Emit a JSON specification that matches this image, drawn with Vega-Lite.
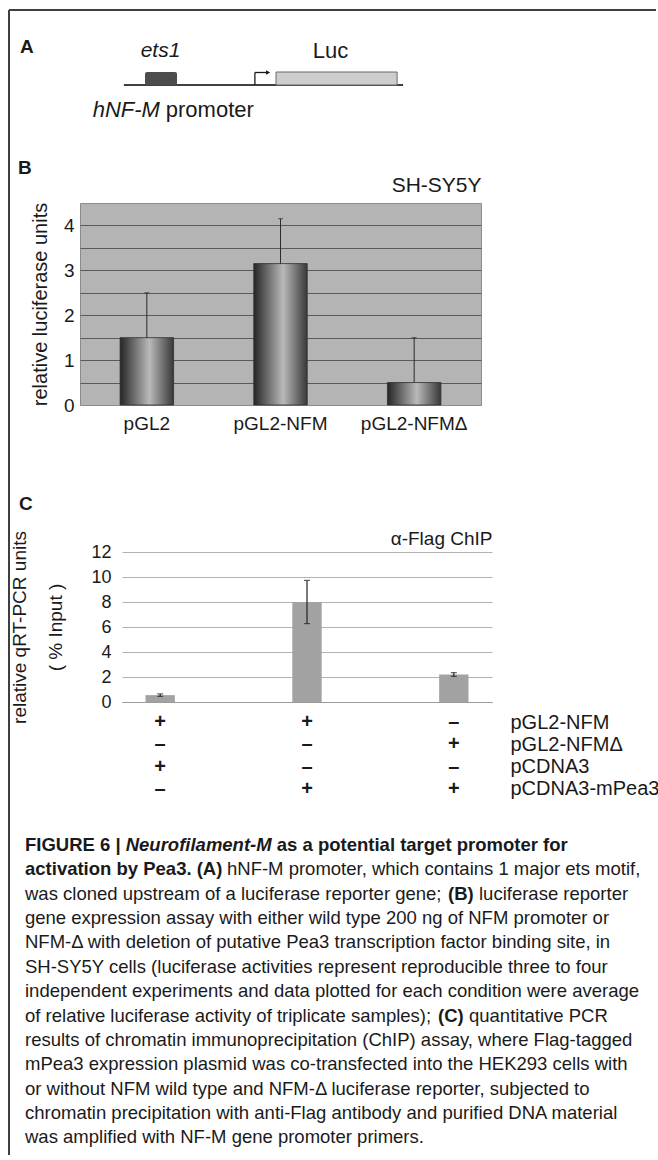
{
  "$schema": "https://vega.github.io/schema/vega-lite/v6.json",
  "background": "white",
  "padding": {"left": 8, "top": 9, "right": 0, "bottom": 0},
  "bounds": "flush",
  "spacing": 0,
  "config": {
    "font": "Liberation Sans",
    "view": {"stroke": null},
    "axis": {"labelColor": "#1a1a1a", "titleColor": "#1a1a1a", "titleFontWeight": "normal", "labelFont": "Liberation Sans", "titleFont": "Liberation Sans"},
    "title": {"color": "#1a1a1a", "font": "Liberation Sans"},
    "text": {"color": "#1a1a1a"}
  },
  "datasets": {
    "construct": [
      {"part": "hNF-M promoter", "start": 13.3, "end": 97.9},
      {"part": "ets1", "start": 19.7, "end": 29.4},
      {"part": "TSS", "start": 53.0, "end": 57.0},
      {"part": "Luc", "start": 59.4, "end": 96.1}
    ],
    "luciferase": [
      {"construct": "pGL2", "value": 1.5, "upper": 2.5},
      {"construct": "pGL2-NFM", "value": 3.15, "upper": 4.15},
      {"construct": "pGL2-NFMΔ", "value": 0.5, "upper": 1.5}
    ],
    "chip": [
      {"sample": "NFM + pCDNA3", "value": 0.55, "low": 0.45, "high": 0.65},
      {"sample": "NFM + mPea3", "value": 8.0, "low": 6.27, "high": 9.73},
      {"sample": "NFMΔ + mPea3", "value": 2.2, "low": 2.05, "high": 2.35}
    ],
    "design": [
      {"sample": "NFM + pCDNA3", "plasmid": "pGL2-NFM", "sign": "+"},
      {"sample": "NFM + mPea3", "plasmid": "pGL2-NFM", "sign": "+"},
      {"sample": "NFMΔ + mPea3", "plasmid": "pGL2-NFM", "sign": "–"},
      {"sample": "NFM + pCDNA3", "plasmid": "pGL2-NFMΔ", "sign": "–"},
      {"sample": "NFM + mPea3", "plasmid": "pGL2-NFMΔ", "sign": "–"},
      {"sample": "NFMΔ + mPea3", "plasmid": "pGL2-NFMΔ", "sign": "+"},
      {"sample": "NFM + pCDNA3", "plasmid": "pCDNA3", "sign": "+"},
      {"sample": "NFM + mPea3", "plasmid": "pCDNA3", "sign": "–"},
      {"sample": "NFMΔ + mPea3", "plasmid": "pCDNA3", "sign": "–"},
      {"sample": "NFM + pCDNA3", "plasmid": "pCDNA3-mPea3", "sign": "–"},
      {"sample": "NFM + mPea3", "plasmid": "pCDNA3-mPea3", "sign": "+"},
      {"sample": "NFMΔ + mPea3", "plasmid": "pCDNA3-mPea3", "sign": "+"}
    ],
    "caption": [
      {"line": 1, "part": "fig", "text": "FIGURE 6 |"},
      {"line": 1, "part": "name", "text": "Neurofilament-M"},
      {"line": 1, "part": "title", "text": "as a potential target promoter for"},
      {"line": 2, "part": "title2", "text": "activation by Pea3. (A)"},
      {"line": 2, "part": "text2", "text": "hNF-M promoter, which contains 1 major ets motif,"},
      {"line": 3, "part": "body", "text": "was cloned upstream of a luciferase reporter gene;"},
      {"line": 3, "part": "panelB", "text": "(B)"},
      {"line": 3, "part": "afterB", "text": "luciferase reporter"},
      {"line": 4, "part": "body", "text": "gene expression assay with either wild type 200 ng of NFM promoter or"},
      {"line": 5, "part": "body", "text": "NFM-Δ with deletion of putative Pea3 transcription factor binding site, in"},
      {"line": 6, "part": "body", "text": "SH-SY5Y cells (luciferase activities represent reproducible three to four"},
      {"line": 7, "part": "body", "text": "independent experiments and data plotted for each condition were average"},
      {"line": 8, "part": "body", "text": "of relative luciferase activity of triplicate samples);"},
      {"line": 8, "part": "panelC", "text": "(C)"},
      {"line": 8, "part": "afterC", "text": "quantitative PCR"},
      {"line": 9, "part": "body", "text": "results of chromatin immunoprecipitation (ChIP) assay, where Flag-tagged"},
      {"line": 10, "part": "body", "text": "mPea3 expression plasmid was co-transfected into the HEK293 cells with"},
      {"line": 11, "part": "body", "text": "or without NFM wild type and NFM-Δ luciferase reporter, subjected to"},
      {"line": 12, "part": "body", "text": "chromatin precipitation with anti-Flag antibody and purified DNA material"},
      {"line": 13, "part": "body", "text": "was amplified with NF-M gene promoter primers."}
    ]
  },
  "vconcat": [
    {
      "width": 330,
      "height": 158,
      "data": {"name": "construct"},
      "layer": [
        {
          "mark": {"type": "rule", "color": "#3f3f3f", "strokeWidth": 1.6},
          "encoding": {
            "x": {"datum": -21.5, "type": "quantitative", "scale": {"domain": [0, 100], "nice": false, "zero": false}, "axis": null},
            "x2": {"datum": 174.5},
            "y": {"datum": 7.5, "type": "quantitative", "scale": {"domain": [-11.8, 4], "nice": false, "zero": false}, "axis": null}
          }
        },
        {
          "mark": {"type": "rule", "color": "#3f3f3f", "strokeWidth": 1.6},
          "encoding": {
            "x": {"datum": -21.5, "type": "quantitative", "scale": {"domain": [0, 100], "nice": false, "zero": false}, "axis": null},
            "y": {"datum": 7.5, "type": "quantitative", "scale": {"domain": [-11.8, 4], "nice": false, "zero": false}, "axis": null},
            "y2": {"datum": -107}
          }
        },
        {
          "transform": [{"filter": "datum.part === 'hNF-M promoter'"}],
          "mark": {"type": "rule", "color": "#404040", "strokeWidth": 2},
          "encoding": {
            "x": {"field": "start", "type": "quantitative", "scale": {"domain": [0, 100], "nice": false, "zero": false}, "axis": null},
            "x2": {"field": "end"},
            "y": {"datum": 0, "type": "quantitative", "scale": {"domain": [-11.8, 4], "nice": false, "zero": false}, "axis": null}
          }
        },
        {
          "transform": [{"filter": "datum.part === 'ets1'"}],
          "mark": {"type": "rect", "color": "#4d4d4d", "cornerRadius": 2},
          "encoding": {
            "x": {"field": "start", "type": "quantitative", "scale": {"domain": [0, 100], "nice": false, "zero": false}, "axis": null},
            "x2": {"field": "end"},
            "y": {"datum": 0, "type": "quantitative", "scale": {"domain": [-11.8, 4], "nice": false, "zero": false}, "axis": null},
            "y2": {"datum": 1.3}
          }
        },
        {
          "transform": [{"filter": "datum.part === 'Luc'"}],
          "mark": {"type": "rect", "fill": "#cdcdcd", "stroke": "#6a6a6a", "strokeWidth": 1},
          "encoding": {
            "x": {"field": "start", "type": "quantitative", "scale": {"domain": [0, 100], "nice": false, "zero": false}, "axis": null},
            "x2": {"field": "end"},
            "y": {"datum": 0, "type": "quantitative", "scale": {"domain": [-11.8, 4], "nice": false, "zero": false}, "axis": null},
            "y2": {"datum": 1.3}
          }
        },
        {
          "transform": [{"filter": "datum.part === 'TSS'"}],
          "mark": {"type": "rule", "color": "#1a1a1a", "strokeWidth": 1.3},
          "encoding": {
            "x": {"field": "start", "type": "quantitative", "scale": {"domain": [0, 100], "nice": false, "zero": false}, "axis": null},
            "y": {"datum": 0, "type": "quantitative", "scale": {"domain": [-11.8, 4], "nice": false, "zero": false}, "axis": null},
            "y2": {"datum": 1.25}
          }
        },
        {
          "transform": [{"filter": "datum.part === 'TSS'"}],
          "mark": {"type": "rule", "color": "#1a1a1a", "strokeWidth": 1.3},
          "encoding": {
            "x": {"field": "start", "type": "quantitative", "scale": {"domain": [0, 100], "nice": false, "zero": false}, "axis": null},
            "x2": {"field": "end"},
            "y": {"datum": 1.25, "type": "quantitative", "scale": {"domain": [-11.8, 4], "nice": false, "zero": false}, "axis": null}
          }
        },
        {
          "transform": [{"filter": "datum.part === 'TSS'"}],
          "mark": {"type": "point", "shape": "triangle-right", "filled": true, "color": "#1a1a1a", "size": 22, "opacity": 1},
          "encoding": {
            "x": {"field": "end", "type": "quantitative", "scale": {"domain": [0, 100], "nice": false, "zero": false}, "axis": null},
            "y": {"datum": 1.25, "type": "quantitative", "scale": {"domain": [-11.8, 4], "nice": false, "zero": false}, "axis": null}
          }
        },
        {
          "transform": [{"filter": "datum.part === 'ets1'"}],
          "mark": {"type": "text", "text": "ets1", "fontStyle": "italic", "fontSize": 21, "align": "center", "baseline": "middle"},
          "encoding": {
            "x": {"datum": 24.4, "type": "quantitative", "scale": {"domain": [0, 100], "nice": false, "zero": false}, "axis": null},
            "y": {"datum": 3.4, "type": "quantitative", "scale": {"domain": [-11.8, 4], "nice": false, "zero": false}, "axis": null}
          }
        },
        {
          "transform": [{"filter": "datum.part === 'Luc'"}],
          "mark": {"type": "text", "text": "Luc", "fontSize": 22, "align": "center", "baseline": "middle"},
          "encoding": {
            "x": {"datum": 75.9, "type": "quantitative", "scale": {"domain": [0, 100], "nice": false, "zero": false}, "axis": null},
            "y": {"datum": 3.4, "type": "quantitative", "scale": {"domain": [-11.8, 4], "nice": false, "zero": false}, "axis": null}
          }
        },
        {
          "transform": [{"filter": "datum.part === 'hNF-M promoter'"}],
          "mark": {"type": "text", "text": "hNF-M", "fontStyle": "italic", "fontSize": 22, "align": "right", "baseline": "middle"},
          "encoding": {
            "x": {"datum": 24.2, "type": "quantitative", "scale": {"domain": [0, 100], "nice": false, "zero": false}, "axis": null},
            "y": {"datum": -2.5, "type": "quantitative", "scale": {"domain": [-11.8, 4], "nice": false, "zero": false}, "axis": null}
          }
        },
        {
          "transform": [{"filter": "datum.part === 'hNF-M promoter'"}],
          "mark": {"type": "text", "text": "promoter", "fontSize": 22, "align": "left", "baseline": "middle"},
          "encoding": {
            "x": {"datum": 26.0, "type": "quantitative", "scale": {"domain": [0, 100], "nice": false, "zero": false}, "axis": null},
            "y": {"datum": -2.5, "type": "quantitative", "scale": {"domain": [-11.8, 4], "nice": false, "zero": false}, "axis": null}
          }
        },
        {
          "transform": [{"filter": "datum.part === 'hNF-M promoter'"}],
          "mark": {"type": "text", "text": "A", "fontSize": 19, "fontWeight": "bold", "align": "left", "baseline": "middle"},
          "encoding": {
            "x": {"datum": -18.2, "type": "quantitative", "scale": {"domain": [0, 100], "nice": false, "zero": false}, "axis": null},
            "y": {"datum": 3.8, "type": "quantitative", "scale": {"domain": [-11.8, 4], "nice": false, "zero": false}, "axis": null}
          }
        }
      ]
    },
    {
      "width": 401,
      "height": 202,
      "view": {"fill": "#b4b4b4", "stroke": "#8c8c8c", "strokeWidth": 1},
      "title": {"text": "B", "anchor": "start", "frame": "group", "fontSize": 19, "fontWeight": "bold", "dx": -62, "dy": 4, "offset": 0},
      "data": {"name": "luciferase"},
      "layer": [
        {
          "mark": {"type": "bar", "stroke": "#2e2e2e", "strokeWidth": 0.8, "color": {"gradient": "linear", "x1": 0, "y1": 0, "x2": 1, "y2": 0, "stops": [{"offset": 0, "color": "#262626"}, {"offset": 0.55, "color": "#b9b9b9"}, {"offset": 1, "color": "#383838"}]}},
          "encoding": {
            "x": {"field": "construct", "type": "nominal", "sort": ["pGL2", "pGL2-NFM", "pGL2-NFMΔ"], "scale": {"paddingInner": 0.6, "paddingOuter": 0.3}, "axis": {"orient": "bottom", "title": null, "labelAngle": 0, "domain": false, "ticks": false, "labelFontSize": 19, "labelPadding": 9}},
            "y": {"field": "value", "type": "quantitative", "title": "relative luciferase units", "scale": {"domain": [0, 4.5], "nice": false}, "axis": {"values": [0, 0.5, 1, 1.5, 2, 2.5, 3, 3.5, 4], "tickCount": 9, "labelExpr": "datum.value % 1 === 0 ? format(datum.value, 'd') : ''", "grid": true, "gridColor": {"condition": {"test": "datum.value === 0 || datum.value === 4.5", "value": "#8c8c8c"}, "value": "#5a5a5a"}, "gridWidth": 1.2, "domain": false, "ticks": false, "labelFontSize": 19, "labelPadding": 6, "titleFontSize": 20, "titlePadding": 13}}
          }
        },
        {
          "mark": {"type": "rule", "color": "#2b2b2b", "strokeWidth": 1},
          "encoding": {
            "x": {"field": "construct", "type": "nominal", "sort": ["pGL2", "pGL2-NFM", "pGL2-NFMΔ"], "axis": {"orient": "top", "title": "SH-SY5Y", "labels": false, "ticks": false, "domain": false, "titleAnchor": "end", "titleFontSize": 21, "titlePadding": 8}},
            "y": {"field": "value", "type": "quantitative", "title": "relative luciferase units", "scale": {"domain": [0, 4.5], "nice": false}, "axis": {"values": [0, 0.5, 1, 1.5, 2, 2.5, 3, 3.5, 4], "tickCount": 9, "labelExpr": "datum.value % 1 === 0 ? format(datum.value, 'd') : ''", "grid": true, "gridColor": {"condition": {"test": "datum.value === 0 || datum.value === 4.5", "value": "#8c8c8c"}, "value": "#5a5a5a"}, "gridWidth": 1.2, "domain": false, "ticks": false, "labelFontSize": 19, "labelPadding": 6, "titleFontSize": 20, "titlePadding": 13}},
            "y2": {"field": "upper"}
          }
        },
        {
          "mark": {"type": "tick", "color": "#2b2b2b", "size": 5, "thickness": 1},
          "encoding": {
            "x": {"field": "construct", "type": "nominal", "sort": ["pGL2", "pGL2-NFM", "pGL2-NFMΔ"], "axis": null},
            "y": {"field": "upper", "type": "quantitative", "title": "relative luciferase units", "scale": {"domain": [0, 4.5], "nice": false}, "axis": {"values": [0, 0.5, 1, 1.5, 2, 2.5, 3, 3.5, 4], "tickCount": 9, "labelExpr": "datum.value % 1 === 0 ? format(datum.value, 'd') : ''", "grid": true, "gridColor": {"condition": {"test": "datum.value === 0 || datum.value === 4.5", "value": "#8c8c8c"}, "value": "#5a5a5a"}, "gridWidth": 1.2, "domain": false, "ticks": false, "labelFontSize": 19, "labelPadding": 6, "titleFontSize": 20, "titlePadding": 13}}
          }
        }
      ],
      "resolve": {"axis": {"x": "independent"}}
    },
    {
      "width": 100,
      "height": 147,
      "data": {"values": []},
      "mark": "text"
    },
    {
      "width": 412,
      "height": 150,
      "title": {"text": "C", "anchor": "start", "frame": "group", "fontSize": 19, "fontWeight": "bold", "dx": -61, "offset": 15},
      "data": {"name": "chip"},
      "layer": [
        {
          "mark": {"type": "bar", "color": "#a2a2a2"},
          "encoding": {
            "x": {"field": "sample", "type": "nominal", "sort": ["NFM + pCDNA3", "NFM + mPea3", "NFMΔ + mPea3"], "scale": {"range": [42, 412], "paddingInner": 0.8, "paddingOuter": 0.16}, "axis": {"orient": "bottom", "title": null, "labels": false, "ticks": false, "domain": true, "domainColor": "#9a9a9a", "domainWidth": 1.2}},
            "y": {"field": "value", "type": "quantitative", "title": ["relative qRT-PCR units", "( % Input )"], "scale": {"domain": [0, 12], "nice": false}, "axis": {"values": [0, 2, 4, 6, 8, 10, 12], "offset": -42, "grid": true, "gridColor": "#b3b3b3", "gridWidth": 1, "domain": false, "ticks": false, "labelFontSize": 18, "labelPadding": 11, "titleFontSize": 19, "titleLineHeight": 36, "titlePadding": 25}}
          }
        },
        {
          "mark": {"type": "rule", "color": "#222222", "strokeWidth": 1.2},
          "encoding": {
            "x": {"field": "sample", "type": "nominal", "sort": ["NFM + pCDNA3", "NFM + mPea3", "NFMΔ + mPea3"], "axis": {"orient": "top", "title": "α-Flag ChIP", "labels": false, "ticks": false, "domain": false, "titleAnchor": "end", "titleFontSize": 19, "titlePadding": 4}},
            "y": {"field": "low", "type": "quantitative", "title": ["relative qRT-PCR units", "( % Input )"], "scale": {"domain": [0, 12], "nice": false}, "axis": {"values": [0, 2, 4, 6, 8, 10, 12], "offset": -42, "grid": true, "gridColor": "#b3b3b3", "gridWidth": 1, "domain": false, "ticks": false, "labelFontSize": 18, "labelPadding": 11, "titleFontSize": 19, "titleLineHeight": 36, "titlePadding": 25}},
            "y2": {"field": "high"}
          }
        },
        {
          "mark": {"type": "tick", "color": "#222222", "size": 6, "thickness": 1.2},
          "encoding": {
            "x": {"field": "sample", "type": "nominal", "sort": ["NFM + pCDNA3", "NFM + mPea3", "NFMΔ + mPea3"], "axis": null},
            "y": {"field": "low", "type": "quantitative", "title": ["relative qRT-PCR units", "( % Input )"], "scale": {"domain": [0, 12], "nice": false}, "axis": {"values": [0, 2, 4, 6, 8, 10, 12], "offset": -42, "grid": true, "gridColor": "#b3b3b3", "gridWidth": 1, "domain": false, "ticks": false, "labelFontSize": 18, "labelPadding": 11, "titleFontSize": 19, "titleLineHeight": 36, "titlePadding": 25}}
          }
        },
        {
          "mark": {"type": "tick", "color": "#222222", "size": 6, "thickness": 1.2},
          "encoding": {
            "x": {"field": "sample", "type": "nominal", "sort": ["NFM + pCDNA3", "NFM + mPea3", "NFMΔ + mPea3"], "axis": null},
            "y": {"field": "high", "type": "quantitative", "title": ["relative qRT-PCR units", "( % Input )"], "scale": {"domain": [0, 12], "nice": false}, "axis": {"values": [0, 2, 4, 6, 8, 10, 12], "offset": -42, "grid": true, "gridColor": "#b3b3b3", "gridWidth": 1, "domain": false, "ticks": false, "labelFontSize": 18, "labelPadding": 11, "titleFontSize": 19, "titleLineHeight": 36, "titlePadding": 25}}
          }
        }
      ],
      "resolve": {"axis": {"x": "independent"}}
    },
    {
      "width": 412,
      "height": 107,
      "data": {"name": "design"},
      "mark": {"type": "text", "fontSize": 20, "fontWeight": "bold", "color": "#1a1a1a", "baseline": "middle"},
      "encoding": {
        "x": {"field": "sample", "type": "nominal", "sort": ["NFM + pCDNA3", "NFM + mPea3", "NFMΔ + mPea3"], "scale": {"type": "band", "range": [42, 412], "paddingInner": 0.8, "paddingOuter": 0.16}, "axis": null},
        "y": {"field": "plasmid", "type": "nominal", "sort": ["pGL2-NFM", "pGL2-NFMΔ", "pCDNA3", "pCDNA3-mPea3"], "scale": {"padding": 0.9}, "axis": {"orient": "right", "title": null, "domain": false, "ticks": false, "labelPadding": 18, "labelFontSize": 20, "labelLimit": 0, "labelAlign": "left"}},
        "text": {"field": "sign"}
      }
    },
    {
      "width": 560,
      "height": 341,
      "data": {"name": "caption"},
      "encoding": {
        "x": {"datum": 0, "type": "quantitative", "scale": {"domain": [0, 1]}, "axis": null},
        "y": {"field": "line", "type": "ordinal", "scale": {"padding": 1.165, "align": 0.74}, "axis": null},
        "text": {"field": "text"}
      },
      "layer": [
        {
          "transform": [{"filter": "datum.part === 'fig'"}],
          "mark": {"type": "text", "align": "left", "baseline": "middle", "fontSize": 18.5, "fontWeight": "bold", "dx": -55, "color": "#1a1a1a"}
        },
        {
          "transform": [{"filter": "datum.part === 'name'"}],
          "mark": {"type": "text", "align": "left", "baseline": "middle", "fontSize": 18.5, "fontWeight": "bold", "fontStyle": "italic", "dx": 45.7, "color": "#1a1a1a"}
        },
        {
          "transform": [{"filter": "datum.part === 'title'"}],
          "mark": {"type": "text", "align": "left", "baseline": "middle", "fontSize": 18.5, "fontWeight": "bold", "dx": 196.8, "color": "#1a1a1a"}
        },
        {
          "transform": [{"filter": "datum.part === 'title2'"}],
          "mark": {"type": "text", "align": "left", "baseline": "middle", "fontSize": 18.5, "fontWeight": "bold", "dx": -55, "color": "#1a1a1a"}
        },
        {
          "transform": [{"filter": "datum.part === 'text2'"}],
          "mark": {"type": "text", "align": "left", "baseline": "middle", "fontSize": 18.5, "dx": 147, "color": "#1a1a1a"}
        },
        {
          "transform": [{"filter": "datum.part === 'body'"}],
          "mark": {"type": "text", "align": "left", "baseline": "middle", "fontSize": 18.5, "dx": -55, "color": "#1a1a1a"}
        },
        {
          "transform": [{"filter": "datum.part === 'panelB'"}],
          "mark": {"type": "text", "align": "left", "baseline": "middle", "fontSize": 18.5, "fontWeight": "bold", "dx": 368, "color": "#1a1a1a"}
        },
        {
          "transform": [{"filter": "datum.part === 'afterB'"}],
          "mark": {"type": "text", "align": "left", "baseline": "middle", "fontSize": 18.5, "dx": 399, "color": "#1a1a1a"}
        },
        {
          "transform": [{"filter": "datum.part === 'panelC'"}],
          "mark": {"type": "text", "align": "left", "baseline": "middle", "fontSize": 18.5, "fontWeight": "bold", "dx": 358, "color": "#1a1a1a"}
        },
        {
          "transform": [{"filter": "datum.part === 'afterC'"}],
          "mark": {"type": "text", "align": "left", "baseline": "middle", "fontSize": 18.5, "dx": 389, "color": "#1a1a1a"}
        }
      ]
    }
  ]
}
